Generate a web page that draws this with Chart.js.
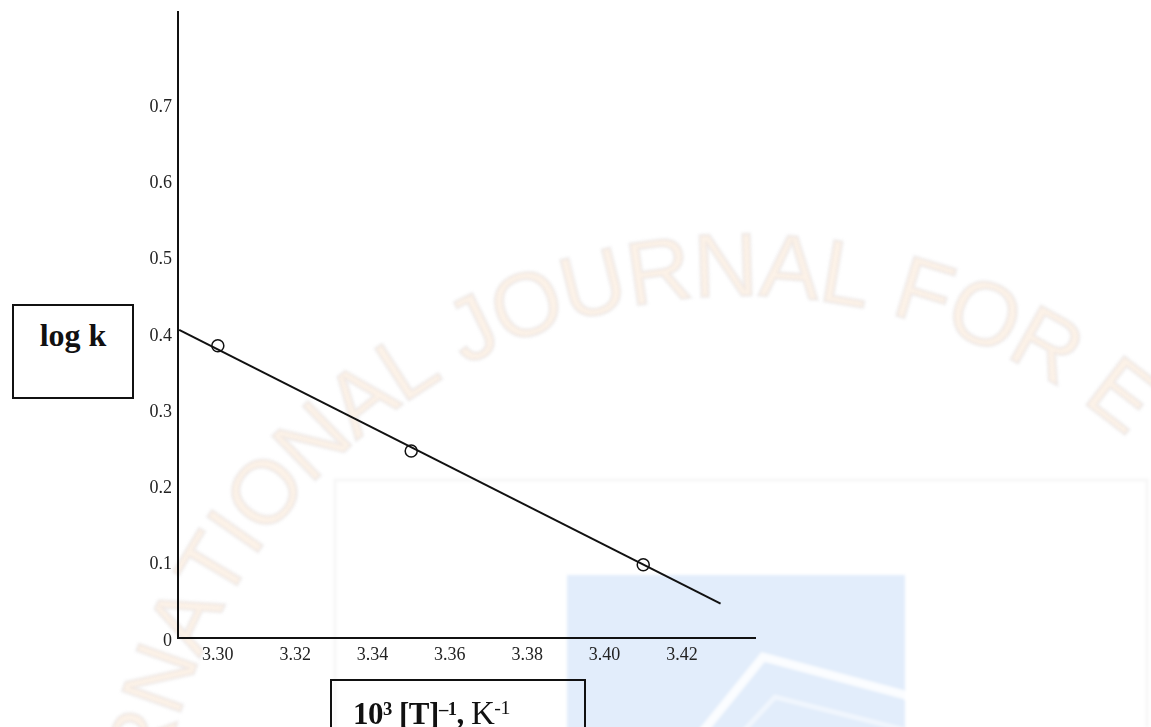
<!DOCTYPE html>
<html>
<head>
<meta charset="utf-8">
<script src="https://cdn.jsdelivr.net/npm/chart.js@4.4.1/dist/chart.umd.min.js"></script>
<style>
  html, body { margin: 0; padding: 0; background: #fff; overflow: hidden; }
  #wrap { position: relative; width: 1151px; height: 727px; overflow: hidden; }
  #plot { position: absolute; left: 0; top: 0; }
  .box {
    position: absolute; border: 2px solid #111; box-sizing: border-box;
    font-family: "Liberation Serif", "Times New Roman", serif; color: #111;
  }
  #ylab { left: 12px; top: 304px; width: 122px; height: 95px; background: #fff; }
  #ylab span {
    position: absolute; left: 0; right: 0; top: 13px; text-align: center;
    font-weight: bold; font-size: 32px; line-height: 32px;
  }
  #xlab { left: 330px; top: 679px; width: 256px; height: 80px; }
  #xlab .t {
    position: absolute; left: 21px; top: 17px; white-space: nowrap;
    font-size: 31px; line-height: 31px; font-weight: bold; letter-spacing: -0.5px;
  }
  #xlab sup { font-size: 0.6em; line-height: 0; vertical-align: baseline; position: relative; top: -0.5em; }
  #xlab .n { font-weight: normal; font-size: 33px; }
</style>
</head>
<body>
<div id="wrap">
  <canvas id="plot" width="1151" height="727"></canvas>
  <div class="box" id="ylab"><span>log k</span></div>
  <div class="box" id="xlab"><div class="t">10<sup>3</sup> [T]<sup>–1</sup>, <span class="n">K<sup>-1</sup></span></div></div>
</div>
<script>
// Measured rate constants against reciprocal temperature
const invTemp = [3.30, 3.35, 3.41];
const logK = [0.383, 0.245, 0.096];

// Least-squares line drawn across the plot
const fitInvTemp = [3.29, 3.43];
const fitLogK = [0.404, 0.045];

// Axis ticks
const xTickValues = [3.30, 3.32, 3.34, 3.36, 3.38, 3.40, 3.42];
const xTickLabels = ['3.30', '3.32', '3.34', '3.36', '3.38', '3.40', '3.42'];
const yTickValues = [0, 0.1, 0.2, 0.3, 0.4, 0.5, 0.6, 0.7];
const yTickLabels = ['0', '0.1', '0.2', '0.3', '0.4', '0.5', '0.6', '0.7'];

// Faint publisher stamp behind the plot
const stampText = 'INTERNATIONAL JOURNAL FOR E';

const stampPlugin = {
  id: 'stamp',
  beforeDraw(chart) {
    const ctx = chart.ctx;
    ctx.save();
    ctx.fillStyle = '#ffffff';
    ctx.fillRect(0, 0, chart.width, chart.height);

    ctx.filter = 'blur(1.5px)';
    // pale frame lines
    ctx.strokeStyle = 'rgba(0,0,0,0.035)';
    ctx.lineWidth = 3;
    ctx.beginPath();
    ctx.moveTo(335, 727); ctx.lineTo(335, 480); ctx.lineTo(1147, 480); ctx.lineTo(1147, 727);
    ctx.stroke();

    // light blue panel with white chevron
    ctx.fillStyle = 'rgb(226,237,251)';
    ctx.fillRect(567, 575, 338, 160);
    ctx.strokeStyle = 'rgba(255,255,255,0.85)';
    ctx.lineWidth = 9;
    ctx.beginPath();
    ctx.moveTo(700, 735); ctx.lineTo(763, 657); ctx.lineTo(905, 695); ctx.lineTo(1010, 735);
    ctx.stroke();
    ctx.strokeStyle = 'rgba(255,255,255,0.5)';
    ctx.lineWidth = 5;
    ctx.beginPath();
    ctx.moveTo(740, 735); ctx.lineTo(775, 697); ctx.lineTo(905, 730);
    ctx.stroke();

    // arched lettering
    const cx = 744, cy = 885, rBase = 589, rEff = 600;
    ctx.font = '90px "Liberation Sans", Arial, sans-serif';
    ctx.textBaseline = 'alphabetic';
    const widths = [...stampText].map(ch => ctx.measureText(ch).width);
    const centers = [];
    let acc = 0;
    widths.forEach(w => { centers.push(acc + w / 2); acc += w; });
    const anchorIdx = 18; // the N of JOURNAL
    const anchorAng = -91.7 * Math.PI / 180;
    [...stampText].forEach((ch, i) => {
      if (ch === ' ') return;
      const a = anchorAng + (centers[i] - centers[anchorIdx]) / rEff;
      ctx.save();
      ctx.translate(cx + rBase * Math.cos(a), cy + rBase * Math.sin(a));
      ctx.rotate(a + Math.PI / 2);
      ctx.fillStyle = 'rgba(240,175,120,0.17)';
      ctx.fillText(ch, -widths[i] / 2, 0);
      ctx.strokeStyle = 'rgba(150,150,165,0.12)';
      ctx.lineWidth = 2.5;
      ctx.strokeText(ch, -widths[i] / 2, 0);
      ctx.restore();
    });
    ctx.restore();
  }
};

const tickFont = { family: '"Liberation Serif", "Times New Roman", serif', size: 18 };

new Chart(document.getElementById('plot'), {
  type: 'scatter',
  data: {
    datasets: [
      {
        label: 'fit',
        data: fitInvTemp.map((x, i) => ({ x, y: fitLogK[i] })),
        showLine: true,
        borderColor: '#111',
        borderWidth: 2,
        pointRadius: 0,
        fill: false
      },
      {
        label: 'log k',
        data: invTemp.map((x, i) => ({ x, y: logK[i] })),
        showLine: false,
        pointStyle: 'circle',
        pointRadius: 6,
        borderColor: '#111',
        borderWidth: 1.5,
        backgroundColor: 'rgba(0,0,0,0)'
      }
    ]
  },
  options: {
    responsive: false,
    animation: false,
    layout: { padding: { left: 0, top: 12, right: 396, bottom: 0 } },
    plugins: { legend: { display: false }, tooltip: { enabled: false } },
    scales: {
      x: {
        type: 'linear',
        min: 3.2897,
        max: 3.4389,
        afterBuildTicks: s => { s.ticks = xTickValues.map(v => ({ value: v })); },
        afterFit: s => { s.height = 89; s.paddingLeft = 0; s.paddingRight = 0; },
        grid: { display: false, drawTicks: false },
        border: { display: true, color: '#111', width: 2 },
        ticks: {
          autoSkip: false, maxRotation: 0, padding: 6, color: '#222', font: tickFont,
          callback: (v, i) => xTickLabels[i]
        }
      },
      y: {
        type: 'linear',
        min: 0,
        max: 0.8205,
        afterBuildTicks: s => { s.ticks = yTickValues.map(v => ({ value: v })); },
        afterFit: s => { s.width = 178; s.paddingTop = 0; s.paddingBottom = 0; },
        grid: { display: false, drawTicks: false },
        border: { display: true, color: '#111', width: 2 },
        ticks: {
          autoSkip: false, padding: 6, labelOffset: 3, color: '#222', font: tickFont,
          callback: (v, i) => yTickLabels[i]
        }
      }
    }
  },
  plugins: [stampPlugin]
});
</script>
</body>
</html>
